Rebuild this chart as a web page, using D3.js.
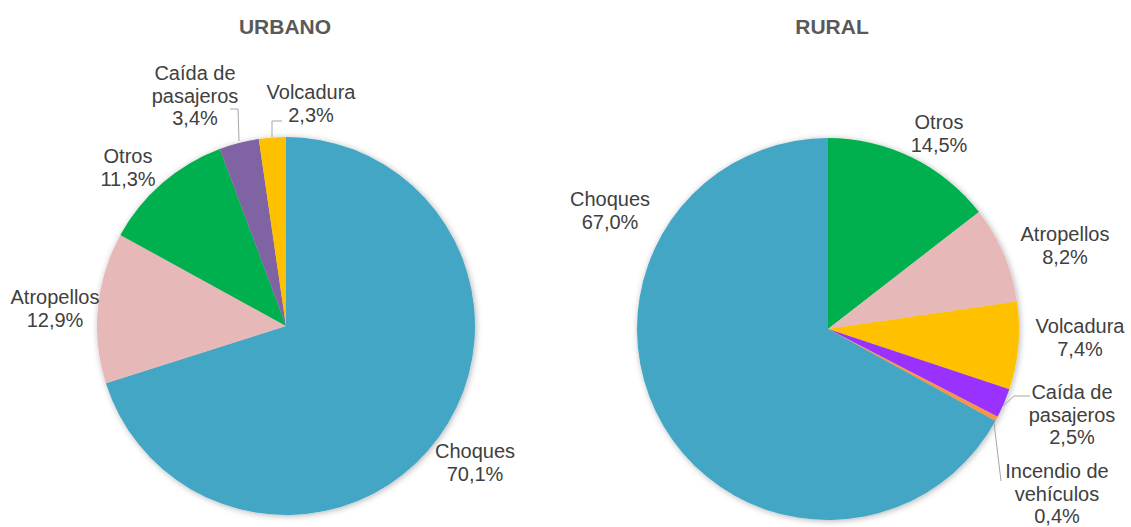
<!DOCTYPE html>
<html>
<head>
<meta charset="utf-8">
<script src="https://cdn.jsdelivr.net/npm/d3@7"></script>
<style>
  body { margin: 0; background: #fff; }
  text { font-family: "Liberation Sans", Arial, sans-serif; }
</style>
</head>
<body>
<div id="chart"></div>
<script>
// data
const urbanCats = ['Choques', 'Atropellos', 'Otros', 'Caída de pasajeros', 'Volcadura'];
const urbanVals = [70.1, 12.9, 11.3, 3.4, 2.3];
const ruralCats = ['Otros', 'Atropellos', 'Volcadura', 'Caída de pasajeros', 'Incendio de vehículos', 'Choques'];
const ruralVals = [14.5, 8.2, 7.4, 2.5, 0.4, 67.0];

const colors = {
    urbano: {'Choques': '#42A6C4', 'Atropellos': '#E6B9B8', 'Otros': '#00B050', 'Caída de pasajeros': '#8064A2', 'Volcadura': '#FFC000'},
    rural: {'Choques': '#42A6C4', 'Atropellos': '#E6B9B8', 'Otros': '#00B050', 'Caída de pasajeros': '#9933FF', 'Incendio de vehículos': '#F79646', 'Volcadura': '#FFC000'}
};

// label layout (line centres) and leader lines
const labelLayout = {
    urbano: {
        'Choques': {x: 475, y: 451, lines: ['Choques']},
        'Atropellos': {x: 55, y: 297, lines: ['Atropellos']},
        'Otros': {x: 128, y: 156, lines: ['Otros']},
        'Caída de pasajeros': {x: 195, y: 73, lines: ['Caída de', 'pasajeros'], leader: [[230, 109], [238, 109], [239, 141]]},
        'Volcadura': {x: 311, y: 92, lines: ['Volcadura'], leader: [[282, 121], [272, 121], [272, 137]]}
    },
    rural: {
        'Otros': {x: 939, y: 122, lines: ['Otros']},
        'Atropellos': {x: 1065, y: 234, lines: ['Atropellos']},
        'Volcadura': {x: 1080, y: 326, lines: ['Volcadura']},
        'Caída de pasajeros': {x: 1072, y: 392, lines: ['Caída de', 'pasajeros'], leader: [[1003, 406], [1014, 396], [1030, 396]]},
        'Incendio de vehículos': {x: 1057, y: 471, lines: ['Incendio de', 'vehículos'], leader: [[994, 423], [1001, 481]]},
        'Choques': {x: 610, y: 199, lines: ['Choques']}
    }
};

const W = 1131, H = 527;
const svg = d3.select('#chart').append('svg').attr('width', W).attr('height', H);

const defs = svg.append('defs');
const f = defs.append('filter').attr('id', 'shadow').attr('x', '-10%').attr('y', '-10%').attr('width', '120%').attr('height', '120%');
f.append('feDropShadow').attr('dx', 1).attr('dy', 1).attr('stdDeviation', 3).attr('flood-color', '#000').attr('flood-opacity', 0.3);

const fmt = v => d3.format('.1f')(v).replace('.', ',') + '%';

function drawPie(key, title, cats, vals, cx, cy, r, titleX) {
    const data = cats.map((c, i) => ({cat: c, value: vals[i]}));
    const pie = d3.pie().value(d => d.value).sort(null);
    const arc = d3.arc().innerRadius(0).outerRadius(r);

    svg.append('text')
        .attr('x', titleX).attr('y', 34)
        .attr('text-anchor', 'middle')
        .style('font-size', '21px').style('font-weight', 'bold').style('fill', '#595959')
        .text(title);

    const g = svg.append('g').attr('transform', `translate(${cx},${cy})`);
    g.append('g').attr('filter', 'url(#shadow)')
        .selectAll('path')
        .data(pie(data))
        .enter()
        .append('path')
        .attr('d', arc)
        .attr('fill', d => colors[key][d.data.cat]);

    const lay = labelLayout[key];
    data.forEach(d => {
        const l = lay[d.cat];
        if (l.leader) {
            svg.append('polyline')
                .attr('points', l.leader.map(p => p.join(',')).join(' '))
                .attr('fill', 'none').attr('stroke', '#A6A6A6').attr('stroke-width', 1);
        }
        const t = svg.append('text')
            .attr('text-anchor', 'middle')
            .style('font-size', '20px').style('fill', '#404040');
        const lines = l.lines.concat([fmt(d.value)]);
        lines.forEach((s, i) => {
            t.append('tspan').attr('x', l.x).attr('y', l.y + i * 22.5).attr('dy', '0.35em').text(s);
        });
    });
}

drawPie('urbano', 'URBANO', urbanCats, urbanVals, 286, 326, 189, 285);
drawPie('rural', 'RURAL', ruralCats, ruralVals, 828, 329, 191, 832);
</script>
</body>
</html>
